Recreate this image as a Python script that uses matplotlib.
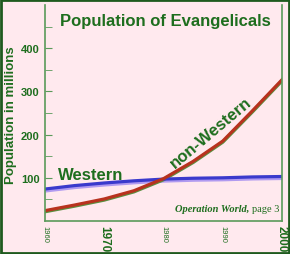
import matplotlib.pyplot as plt
import matplotlib.transforms as mtransforms
import numpy as np

plt.rcParams['font.family'] = ['Liberation Sans', 'DejaVu Sans']

# data (millions), every 5 years
years = [1960, 1965, 1970, 1975, 1980, 1985, 1990, 1995, 2000]
western = [74, 82, 88, 93, 97, 99, 100, 102, 103]
non_western = [24, 37, 51, 70, 98, 138, 185, 255, 327]
tick_years = [1960, 1970, 1980, 1990, 2000]
year_labels = ['1960', '1970', '1980', '1990', '2000']

green = '#1e6e1e'
bg = '#ffe9ee'

fig = plt.figure(figsize=(2.9, 2.55), dpi=100, facecolor=bg)
ax = fig.add_axes([45/290, 33/255, 237/290, 216/255], facecolor=bg)

# soft shadows under the lines, then the lines
def shifted(dy):
    return ax.transData + mtransforms.ScaledTranslation(0, dy/100, fig.dpi_scale_trans)

ax.plot(years, western, color='#b09af0', lw=3, transform=shifted(-1.5))
ax.plot(years, non_western, color='#5a9040', lw=2.5, transform=shifted(-1))
ax.plot(years, western, color='#3a3acc', lw=2.3)
ax.plot(years, non_western, color='#b8321e', lw=2.3)

ax.set_xlim(1960, 2000)
ax.set_ylim(0, 500)
ax.set_yticks([100, 200, 300, 400])
ax.set_yticks(np.arange(50, 500, 50), minor=True)
ax.set_xticks(tick_years)

ax.spines['top'].set_visible(False)
for s in ['left', 'right', 'bottom']:
    ax.spines[s].set_color('#5a9a5a')
    ax.spines[s].set_linewidth(1.2)

ax.tick_params(axis='y', which='both', direction='in', length=5, color='#5a9a5a',
               labelcolor=green, labelsize=8, pad=4)
ax.tick_params(axis='x', direction='out', length=0, labelcolor=green, pad=3)
for lab in ax.get_yticklabels():
    lab.set_fontweight('bold')

xl = ax.set_xticklabels(year_labels, rotation=-90)
for lab, yr in zip(xl, tick_years):
    if yr in (1970, 2000):
        lab.set_fontsize(8.5)
        lab.set_fontweight('bold')
    else:
        lab.set_fontsize(5.5)
    lab.set_verticalalignment('top')

ax.set_ylabel('Population in millions', color=green, fontsize=9.5, fontweight='bold')
ax.yaxis.set_label_coords(-0.12, 0.495)

ax.text(0.507, 0.962, 'Population of Evangelicals', transform=ax.transAxes,
        ha='center', va='top', color=green, fontsize=12, fontweight='bold')
ax.text(1962.2, 97, 'Western', color=green, fontsize=12, fontweight='bold')
ax.text(1988, 206, 'non-Western', color=green, fontsize=12, fontweight='bold',
        rotation=40, ha='center', va='center')

src = ax.text(0.99, 0.035, 'page 3', transform=ax.transAxes, ha='right', va='bottom',
              color=green, fontsize=7.5, family='Liberation Serif')
ax.annotate('Operation World, ', xy=(0, 0), xycoords=src, ha='right', va='bottom',
            color=green, fontsize=7.5, family='Liberation Serif', style='italic',
            fontweight='bold')

# dark frame around the whole picture
fig.patches.append(plt.Rectangle((0.003, 0.004), 0.994, 0.992, transform=fig.transFigure,
                                 fill=False, edgecolor='#1e5a1e', lw=2))

fig.savefig('out.png', dpi=100, facecolor=bg)
